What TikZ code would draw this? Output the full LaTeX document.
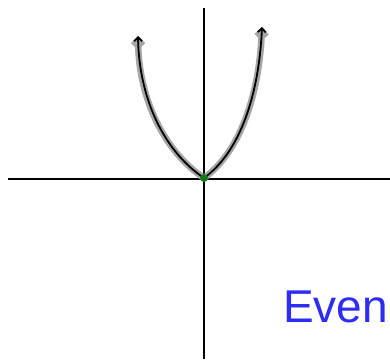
\documentclass[tikz,border=0pt]{standalone}
\usepackage{fontspec}
\setmainfont{Liberation Sans}
\usetikzlibrary{arrows.meta}
\definecolor{penblue}{RGB}{45,45,245}
\definecolor{dotgreen}{RGB}{20,120,20}
\tikzset{
  axis/.style={line width=2.8pt, black},
  halo/.style={line width=6.5pt, gray!70, line cap=round, line join=round, -{Straight Barb[length=5pt, width=10pt, line width=6pt]}},
  core/.style={line width=1.8pt, black, line cap=round, line join=round, -{Straight Barb[length=4pt, width=8pt]}},
  lbl/.style={text=penblue, font=\fontsize{46}{50}\selectfont, inner sep=0pt, anchor=base west}
}
\begin{document}
\begin{tikzpicture}[x=1pt, y=-1pt]
  \useasboundingbox (0,0) rectangle (390,359);
  \fill[white] (0,0) rectangle (390,359);
  \coordinate (xl) at (8,179);
  \coordinate (xr) at (390,179);
  \coordinate (yt) at (204,8);
  \coordinate (yb) at (204,359);
  \coordinate (o) at (204,178);
  \coordinate (lt) at (138,36);
  \coordinate (rt) at (262,27);
  \draw[axis] (xl) -- (xr);
  \draw[axis] (yt) -- (yb);
  \draw[halo] (o) .. controls (165,152) and (139,100) .. (lt);
  \draw[halo] (o) .. controls (240,152) and (259,95) .. (rt);
  \draw[core] (o) .. controls (165,152) and (139,100) .. (lt);
  \draw[core] (o) .. controls (240,152) and (259,95) .. (rt);
  \fill[dotgreen] (o) circle (4pt);
  \node[lbl] (even) at (283,322) {Even};
\end{tikzpicture}
\end{document}
